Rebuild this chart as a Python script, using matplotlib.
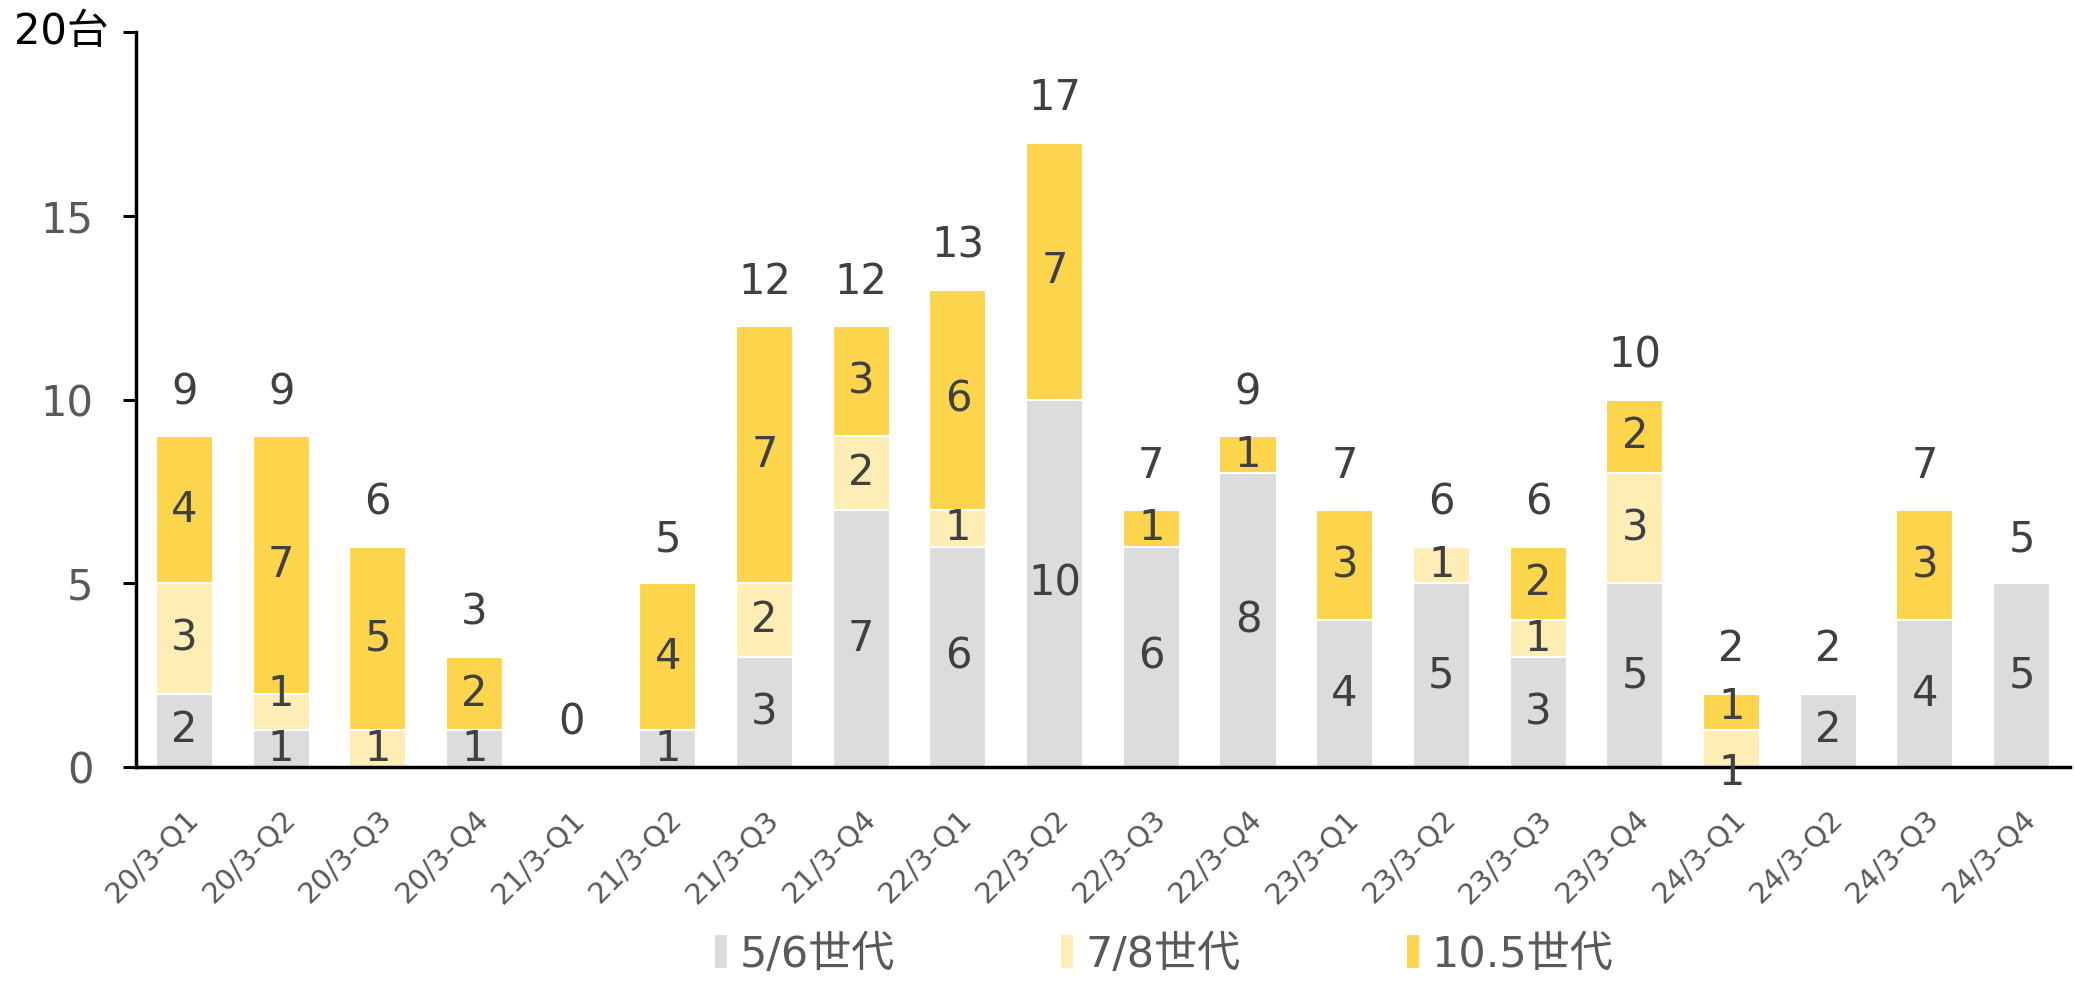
import numpy as np
import matplotlib
matplotlib.use("Agg")
import matplotlib.pyplot as plt

plt.rcParams['font.family'] = ['DejaVu Sans', 'Noto Sans CJK JP']

quarters = ['20/3-Q1', '20/3-Q2', '20/3-Q3', '20/3-Q4',
            '21/3-Q1', '21/3-Q2', '21/3-Q3', '21/3-Q4',
            '22/3-Q1', '22/3-Q2', '22/3-Q3', '22/3-Q4',
            '23/3-Q1', '23/3-Q2', '23/3-Q3', '23/3-Q4',
            '24/3-Q1', '24/3-Q2', '24/3-Q3', '24/3-Q4']
gen56 = [2, 1, 0, 1, 0, 1, 3, 7, 6, 10, 6, 8, 4, 5, 3, 5, 0, 2, 4, 5]
gen78 = [3, 1, 1, 0, 0, 0, 2, 2, 1, 0, 0, 0, 0, 1, 1, 3, 1, 0, 0, 0]
gen105 = [4, 7, 5, 2, 0, 4, 7, 3, 6, 7, 1, 1, 3, 0, 2, 2, 1, 0, 3, 0]
series_names = ['5/6世代', '7/8世代', '10.5世代']
colors = ['#DCDCDC', '#FEEEB6', '#FCD54D']

# small label nudges (in data units) where Excel moved overlapping labels
nudge = {(1, 1): 0.5, (1, 16): -0.65, (2, 16): 0.15}

text_color = '#404040'
tick_color = '#595959'

fig = plt.figure(figsize=(20.74, 9.81), dpi=100)
ax = fig.add_axes([0.0656, 0.218, 0.9324, 0.749])

x = np.arange(len(quarters))
series = [np.array(gen56), np.array(gen78), np.array(gen105)]
bottom = np.zeros(len(quarters))
handles = []
for k, (vals, col, name) in enumerate(zip(series, colors, series_names)):
    h = ax.bar(x, vals, 0.59, bottom=bottom, color=col, edgecolor='white',
               linewidth=1.5, label=name)
    handles.append(h)
    for i, v in enumerate(vals):
        if v > 0:
            y = bottom[i] + v / 2 + nudge.get((k, i), 0)
            ax.text(x[i], y, str(v), ha='center', va='center',
                    fontsize=30, color=text_color)
    bottom = bottom + vals

for i, t in enumerate(bottom):
    ax.annotate(str(int(t)), (x[i], t), xytext=(0, 32), textcoords='offset points',
                ha='center', va='center', fontsize=30, color=text_color)

ax.set_xlim(-0.5, 19.5)
ax.set_ylim(0, 20)
ax.set_yticks([0, 5, 10, 15, 20])
ax.set_yticklabels(['0', '5', '10', '15', ''])
ax.tick_params(axis='y', labelsize=30, labelcolor=tick_color, length=9.5,
               width=2.2, pad=21, direction='out')
ax.annotate('20台', (0, 20), xycoords=('axes fraction', 'data'),
            xytext=(-20, 0), textcoords='offset points',
            ha='right', va='center', fontsize=30, color='black')

ax.set_xticks(x)
ax.set_xticklabels(quarters, rotation=45, ha='right', rotation_mode='anchor',
                   fontsize=21, color=tick_color)
ax.tick_params(axis='x', length=0, pad=27)

for s in ['top', 'right']:
    ax.spines[s].set_visible(False)
ax.spines['left'].set_linewidth(2.5)
ax.spines['bottom'].set_linewidth(2.5)

leg = fig.legend(handles=handles, loc='center left', bbox_to_anchor=(0.334, 0.027),
                 ncol=3, frameon=False, fontsize=31, handlelength=0.33,
                 handleheight=0.85, handletextpad=0.25, columnspacing=3.85,
                 borderpad=0, labelcolor=tick_color)

fig.savefig('out.png', dpi=100)
